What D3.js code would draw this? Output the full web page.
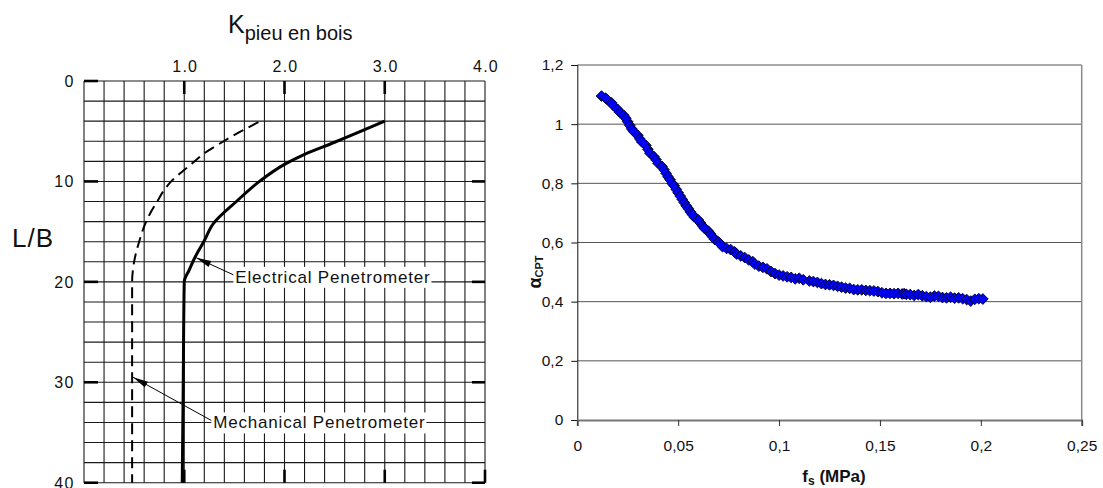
<!DOCTYPE html>
<html><head><meta charset="utf-8">
<script src="https://cdn.jsdelivr.net/npm/d3@7"></script>
<style>body{margin:0;background:#fff} svg{display:block;font-family:"Liberation Sans",Arial,sans-serif}</style>
</head><body><svg id="c" width="1103" height="488"></svg>
<script>
// ---- Left chart data ----
const kTickValues = [1, 2, 3, 4];
const kTickLabels = ["1.0", "2.0", "3.0", "4.0"];
const lbTickValues = [0, 10, 20, 30, 40];
const electricalK  = [3.0, 2.5, 2.2, 2.0, 1.75, 1.52, 1.29, 1.2, 1.11, 1.05, 1.0, 0.99, 0.98];
const electricalLB = [4, 6.1, 7.3, 8.3, 10, 12, 14.2, 15.9, 17.5, 18.8, 20, 30, 40];
const mechanicalK  = [1.74, 1.55, 1.36, 1.2, 1.08, 0.97, 0.87, 0.79, 0.73, 0.67, 0.62, 0.55, 0.5, 0.48, 0.48];
const mechanicalLB = [4.1, 5.1, 6.2, 7.2, 8.2, 9.1, 10, 11, 12, 13, 14, 16, 18, 20, 40];
const annotationTexts = ["Electrical Penetrometer", "Mechanical Penetrometer"];
const annotationTextK = [1.49, 1.27];
const annotationTextLB = [19.5, 34];
const annotationTipK = [1.12, 0.49];
const annotationTipLB = [17.6, 29.5];

// ---- Right chart data ----
const fsTicks = [0, 0.05, 0.1, 0.15, 0.2, 0.25];
const alphaTicks = [0, 0.2, 0.4, 0.6, 0.8, 1, 1.2];
const fsValues = [0.012,0.014,0.015,0.017,0.018,0.020,0.021,0.023,0.024,0.025,0.026,0.027,0.028,0.030,0.031,0.032,0.034,0.035,0.036,0.038,0.039,0.040,0.042,0.043,0.044,0.045,0.046,0.047,0.048,0.049,0.050,0.051,0.052,0.053,0.054,0.055,0.056,0.057,0.058,0.060,0.061,0.062,0.063,0.065,0.066,0.067,0.068,0.070,0.071,0.072,0.074,0.076,0.078,0.079,0.081,0.083,0.085,0.087,0.088,0.090,0.092,0.094,0.096,0.098,0.100,0.102,0.104,0.106,0.108,0.110,0.112,0.115,0.117,0.119,0.121,0.123,0.125,0.127,0.129,0.131,0.133,0.135,0.137,0.139,0.141,0.143,0.145,0.147,0.149,0.151,0.153,0.155,0.157,0.159,0.161,0.162,0.163,0.165,0.167,0.169,0.171,0.173,0.175,0.177,0.179,0.181,0.183,0.185,0.187,0.189,0.191,0.193,0.195,0.197,0.199,0.201];
const alphaValues = [1.095,1.088,1.082,1.072,1.062,1.050,1.040,1.030,1.020,1.008,0.996,0.984,0.975,0.962,0.950,0.940,0.928,0.915,0.902,0.890,0.880,0.868,0.857,0.846,0.834,0.822,0.812,0.800,0.792,0.780,0.768,0.757,0.746,0.735,0.724,0.715,0.704,0.695,0.686,0.676,0.666,0.657,0.648,0.638,0.629,0.620,0.611,0.602,0.594,0.586,0.580,0.576,0.568,0.561,0.555,0.549,0.541,0.535,0.527,0.520,0.516,0.511,0.502,0.495,0.490,0.487,0.484,0.482,0.477,0.479,0.474,0.470,0.468,0.465,0.461,0.458,0.457,0.455,0.452,0.449,0.446,0.445,0.441,0.440,0.440,0.438,0.437,0.436,0.434,0.430,0.428,0.428,0.427,0.428,0.426,0.427,0.425,0.424,0.421,0.424,0.420,0.417,0.415,0.419,0.418,0.414,0.413,0.415,0.412,0.413,0.410,0.407,0.402,0.408,0.410,0.409];

const svg = d3.select("#c");

// ================= LEFT CHART =================
const xK = d3.scaleLinear().domain([0, 4]).range([84, 485]);
const yL = d3.scaleLinear().domain([0, 40]).range([81, 482.7]);
const L = svg.append("g");

// grid
L.append("g").selectAll("line").data(d3.range(0, 4.001, 0.2)).join("line")
  .attr("x1", d => xK(d)).attr("x2", d => xK(d)).attr("y1", yL(0)).attr("y2", yL(40))
  .attr("stroke", "#1a1a1a").attr("stroke-width", 1.1);
L.append("g").selectAll("line").data(d3.range(0, 40.001, 2)).join("line")
  .attr("y1", d => yL(d)).attr("y2", d => yL(d)).attr("x1", xK(0)).attr("x2", xK(4))
  .attr("stroke", "#1a1a1a").attr("stroke-width", 1.1);

// inward ticks
const tk = L.append("g").attr("stroke", "#000").attr("stroke-width", 2.6);
tk.selectAll(".tl").data(lbTickValues).join("line").attr("class", "tl")
  .attr("x1", xK(0)).attr("x2", xK(0) + 14).attr("y1", d => yL(d)).attr("y2", d => yL(d));
tk.selectAll(".tr").data(lbTickValues.filter(d => d > 0)).join("line").attr("class", "tr")
  .attr("x1", xK(4)).attr("x2", xK(4) - 13).attr("y1", d => yL(d)).attr("y2", d => yL(d));
tk.selectAll(".tt").data(kTickValues.filter(d => d < 4)).join("line").attr("class", "tt")
  .attr("x1", d => xK(d)).attr("x2", d => xK(d)).attr("y1", yL(0)).attr("y2", yL(0) + 13);
tk.selectAll(".tb").data(kTickValues).join("line").attr("class", "tb")
  .attr("x1", d => xK(d)).attr("x2", d => xK(d)).attr("y1", yL(40)).attr("y2", yL(40) - 13);

// tick labels
L.append("g").selectAll("text").data(kTickValues).join("text")
  .attr("x", d => xK(d) + 1).attr("y", 72).attr("text-anchor", "middle")
  .attr("font-size", 16).attr("letter-spacing", 1.2).attr("fill", "#111").text((d, i) => kTickLabels[i]);
L.append("g").selectAll("text").data(lbTickValues).join("text")
  .attr("x", 75).attr("y", d => yL(d) + 6).attr("text-anchor", "end")
  .attr("font-size", 16).attr("letter-spacing", 1.5).attr("fill", "#111").text(d => d);

// titles
const kt = L.append("text").attr("x", 228).attr("y", 33).attr("fill", "#111");
kt.append("tspan").attr("font-size", 25).text("K");
kt.append("tspan").attr("font-size", 20).attr("dy", 7).text("pieu en bois");
L.append("text").attr("x", 12).attr("y", 247).attr("font-size", 26).attr("letter-spacing", 1)
  .attr("fill", "#111").text("L/B");

// curves
const lineGen = d3.line().x(d => xK(d[0])).y(d => yL(d[1])).curve(d3.curveMonotoneY);
L.append("path").datum(electricalK.map((k, i) => [k, electricalLB[i]]))
  .attr("d", lineGen).attr("fill", "none").attr("stroke", "#000").attr("stroke-width", 3);
L.append("path").datum(mechanicalK.map((k, i) => [k, mechanicalLB[i]]))
  .attr("d", lineGen).attr("fill", "none").attr("stroke", "#000").attr("stroke-width", 2)
  .attr("stroke-dasharray", "11,6");

// annotations
annotationTexts.forEach((t, i) => {
  const tx = xK(annotationTextK[i]), ty = yL(annotationTextLB[i]);
  const px = xK(annotationTipK[i]), py = yL(annotationTipLB[i]);
  const g = L.append("g");
  const txt = g.append("text").attr("x", tx + 2).attr("y", ty + 6).attr("font-size", 17)
    .attr("letter-spacing", 0.8).attr("fill", "#111").text(t);
  const bb = txt.node().getBBox();
  g.insert("rect", "text").attr("x", bb.x - 2).attr("y", bb.y - 1).attr("width", bb.width + 3)
    .attr("height", bb.height + 2).attr("fill", "#fff");
  g.append("line").attr("x1", tx).attr("y1", ty - 2).attr("x2", px).attr("y2", py)
    .attr("stroke", "#000").attr("stroke-width", 1);
  const ang = Math.atan2(ty - 2 - py, tx - px);
  const len = 15, w = 3.2;
  const bx = px + Math.cos(ang) * len, by = py + Math.sin(ang) * len;
  const nx = -Math.sin(ang) * w, ny = Math.cos(ang) * w;
  g.append("path").attr("d", `M${px},${py}L${bx + nx},${by + ny}L${bx - nx},${by - ny}Z`).attr("fill", "#000");
});

// ================= RIGHT CHART =================
const xF = d3.scaleLinear().domain([0, 0.25]).range([577.3, 1081.7]);
const yA = d3.scaleLinear().domain([0, 1.2]).range([420, 65]);
const R = svg.append("g");
const fmt = d => String(d).replace(".", ",");

R.append("g").selectAll("line").data(alphaTicks.filter(d => d > 0)).join("line")
  .attr("x1", xF(0)).attr("x2", xF(0.25)).attr("y1", d => yA(d)).attr("y2", d => yA(d))
  .attr("stroke", "#555").attr("stroke-width", 1);
R.append("line").attr("x1", xF(0.25)).attr("x2", xF(0.25)).attr("y1", yA(1.2)).attr("y2", yA(0))
  .attr("stroke", "#8a8a8a").attr("stroke-width", 1.5);

const ay = R.append("g").attr("transform", `translate(${xF(0)},0)`)
  .call(d3.axisLeft(yA).tickValues(alphaTicks).tickSize(6).tickPadding(8).tickFormat(fmt));
ay.select(".domain").attr("stroke", "#111");
ay.selectAll(".tick line").attr("stroke", "#111");
ay.selectAll("text").attr("font-size", 15.5).attr("fill", "#111").attr("font-family", "Liberation Sans, Arial, sans-serif");

const ax = R.append("g").attr("transform", `translate(0,${yA(0)})`)
  .call(d3.axisBottom(xF).tickValues(fsTicks).tickSize(6).tickPadding(14).tickFormat(fmt));
ax.select(".domain").attr("stroke", "#777").attr("stroke-width", 2);
ax.selectAll(".tick line").attr("stroke", "#333");
ax.selectAll("text").attr("font-size", 15.5).attr("fill", "#111").attr("font-family", "Liberation Sans, Arial, sans-serif");

// axis titles
const at = R.append("text").attr("transform", "translate(541,272) rotate(-90)")
  .attr("text-anchor", "middle").attr("font-weight", "bold").attr("fill", "#111");
at.append("tspan").attr("font-size", 18).text("α");
at.append("tspan").attr("font-size", 11).attr("dy", 2).text("CPT");
const ft = R.append("text").attr("x", 834).attr("y", 482).attr("text-anchor", "middle")
  .attr("font-weight", "bold").attr("fill", "#111");
ft.append("tspan").attr("font-size", 17).text("f");
ft.append("tspan").attr("font-size", 12).attr("dy", 3).text("s");
ft.append("tspan").attr("font-size", 17).attr("dy", -3).text(" (MPa)");

// points
R.append("g").selectAll("path").data(fsValues.map((f, i) => [f, alphaValues[i]])).join("path")
  .attr("transform", d => `translate(${xF(d[0])},${yA(d[1])})`)
  .attr("d", "M0,-5.4L5.4,0L0,5.4L-5.4,0Z")
  .attr("fill", "#0000ff").attr("stroke", "#000022").attr("stroke-width", 0.9);
</script></body></html>
